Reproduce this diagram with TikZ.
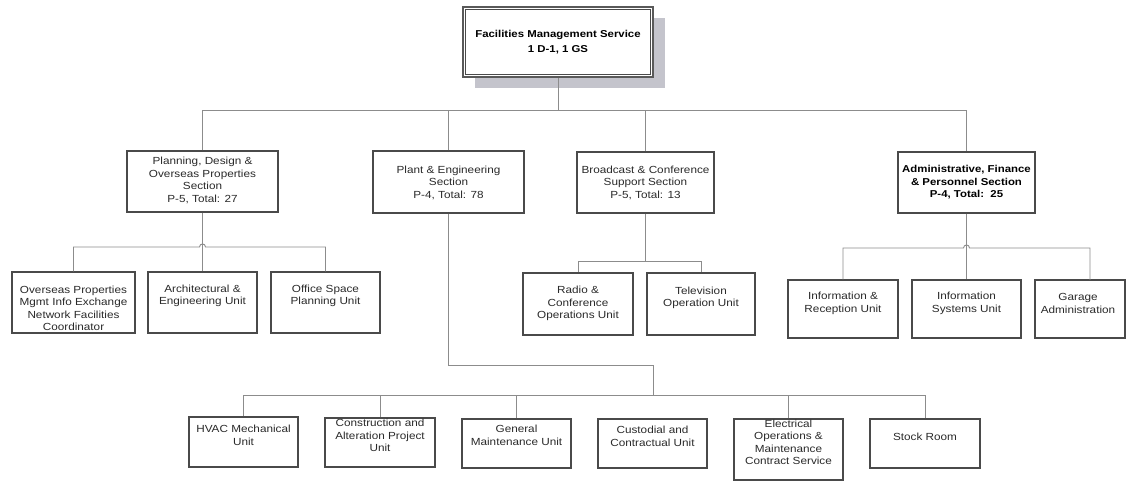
\documentclass[tikz,border=0pt]{standalone}
\usepackage{fontspec}
\setmainfont{Liberation Sans}[FakeStretch=1.14]
\usetikzlibrary{calc}
\definecolor{conn}{HTML}{8C8C8C}
\definecolor{frame}{HTML}{4A4A4A}
\definecolor{shadowc}{HTML}{C4C4CC}
\definecolor{txtc}{HTML}{2A2A2A}
\begin{document}
\begin{tikzpicture}[x=1pt,y=-1pt,
  box/.style={draw=frame, line width=1.3pt, fill=white, inner sep=0pt, rectangle},
  lbl/.style={align=center, font=\fontsize{10.3}{12.5}\selectfont, text=txtc, inner sep=0pt},
  blbl/.style={align=center, font=\fontsize{10}{12.5}\selectfont\bfseries, text=black, inner sep=0pt},
  link/.style={draw=conn, line width=0.9pt}]
\useasboundingbox (0,0) rectangle (1128,481);

% top box
\fill[shadowc] (475,18) rectangle (665,88);
\node[box, line width=2.4pt, draw=gray!70!black, minimum width=190pt, minimum height=70pt] (top) at (558,42) {};
\draw[frame, line width=0.8pt] ($(top.north west)+(3.5,3.5)$) rectangle ($(top.south east)+(-3.5,-3.5)$);
\node[blbl, font=\fontsize{10}{15}\selectfont\bfseries] (toptxt) at (558,42.5) {Facilities Management Service\\1 D-1, 1 GS};

% sections
\node[box, minimum width=151pt, minimum height=61pt] (plan) at (202.5,181.5) {};
\node[box, minimum width=151pt, minimum height=62pt] (plant) at (448.5,182) {};
\node[box, minimum width=137pt, minimum height=61pt] (bcast) at (645.5,182.5) {};
\node[box, minimum width=137pt, minimum height=61pt] (admin) at (966.5,182.5) {};

% planning children
\node[box, minimum width=123pt, minimum height=61pt] (ovs) at (73.5,302.5) {};
\node[box, minimum width=109pt, minimum height=61pt] (arch) at (202.5,302.5) {};
\node[box, minimum width=109pt, minimum height=61pt] (office) at (325.5,302.5) {};

% broadcast children
\node[box, minimum width=110pt, minimum height=62pt] (radio) at (578,304) {};
\node[box, minimum width=108pt, minimum height=62pt] (tv) at (701,304) {};

% admin children
\node[box, minimum width=110pt, minimum height=58pt] (inforec) at (843,309) {};
\node[box, minimum width=109pt, minimum height=58pt] (infosys) at (966.5,309) {};
\node[box, minimum width=90pt, minimum height=58pt] (garage) at (1080,309) {};

% plant children
\node[box, minimum width=109pt, minimum height=50pt] (hvac) at (243.5,442) {};
\node[box, minimum width=110pt, minimum height=49pt] (constr) at (380,442.5) {};
\node[box, minimum width=109pt, minimum height=49pt] (general) at (516.5,443.5) {};
\node[box, minimum width=109pt, minimum height=49pt] (custod) at (652.5,443.5) {};
\node[box, minimum width=109pt, minimum height=61pt] (elec) at (788.5,449.5) {};
\node[box, minimum width=110pt, minimum height=49pt] (stock) at (925,443.5) {};

% connectors
\coordinate (bus1) at (558,110);
\draw[link] (top.south) -- (bus1);
\draw[link] (plan.north) |- (bus1 -| admin.north) -- (admin.north);
\draw[link] (plant.north) -- (plant.north |- bus1);
\draw[link] (bcast.north) -- (bcast.north |- bus1);

\coordinate (pbus) at (202.5,247);
\draw[link] (plan.south) -- (plan.south |- pbus);
\draw[link] (ovs.north) |- ($(plan.south |- pbus)+(-3,0)$) .. controls +(0,-4) and +(0,-4) .. ($(plan.south |- pbus)+(3,0)$) -| (office.north);
\draw[link] (arch.north) -- (arch.north |- pbus);

\coordinate (bbus) at (645.5,261);
\draw[link] (bcast.south) -- (bbus);
\draw[link] (radio.north) |- (tv.north |- bbus) -- (tv.north);

\coordinate (abus) at (966.5,248);
\coordinate (gtop) at (1090,280);
\draw[link] (admin.south) -- (abus);
\draw[link] (inforec.north) |- ($(abus)+(-3,0)$) .. controls +(0,-4) and +(0,-4) .. ($(abus)+(3,0)$) -| (gtop);
\draw[link] (infosys.north) -- (infosys.north |- abus);

\coordinate (pj) at (653,365);
\coordinate (pb) at (653,395);
\draw[link] (plant.south) |- (pj) -- (pb);
\draw[link] (hvac.north) |- (stock.north |- pb) -- (stock.north);
\draw[link] (constr.north) -- (constr.north |- pb);
\draw[link] (general.north) -- (general.north |- pb);
\draw[link] (elec.north) -- (elec.north |- pb);

% labels
\node[lbl] (plantxt) at (202.5,180.5) {Planning, Design \&\\Overseas Properties\\Section\\P-5, Total: 27};
\node[lbl] (planttxt) at (448.5,182.5) {Plant \& Engineering\\Section\\P-4, Total: 78};
\node[lbl] (bcasttxt) at (645.5,182.5) {Broadcast \& Conference\\Support Section\\P-5, Total: 13};
\node[blbl] (admintxt) at (966.5,182.5) {Administrative, Finance\\\& Personnel Section\\P-4, Total:\ \ 25};

\node[lbl] (ovstxt) at (73.5,308.5) {Overseas Properties\\Mgmt Info Exchange\\Network Facilities\\Coordinator};
\node[lbl] (archtxt) at (202.5,296) {Architectural \&\\Engineering Unit};
\node[lbl] (officetxt) at (325.5,296) {Office Space\\Planning Unit};

\node[lbl] (radiotxt) at (578,303.5) {Radio \&\\Conference\\Operations Unit};
\node[lbl] (tvtxt) at (701,298) {Television\\Operation Unit};

\node[lbl] (inforectxt) at (843,303.5) {Information \&\\Reception Unit};
\node[lbl] (infosystxt) at (966.5,303.5) {Information\\Systems Unit};
\node[lbl] (garagetxt) at (1078,303.5) {Garage\\Administration};

\node[lbl] (hvactxt) at (243.5,435.5) {HVAC Mechanical\\Unit};
\node[lbl] (constrtxt) at (380,435.5) {Construction and\\Alteration Project\\Unit};
\node[lbl] (generaltxt) at (516.5,435.5) {General\\Maintenance Unit};
\node[lbl] (custodtxt) at (652.5,436.5) {Custodial and\\Contractual Unit};
\node[lbl] (electxt) at (788.5,442.5) {Electrical\\Operations \&\\Maintenance\\Contract Service};
\node[lbl] (stocktxt) at (925,437) {Stock Room};
\end{tikzpicture}
\end{document}
